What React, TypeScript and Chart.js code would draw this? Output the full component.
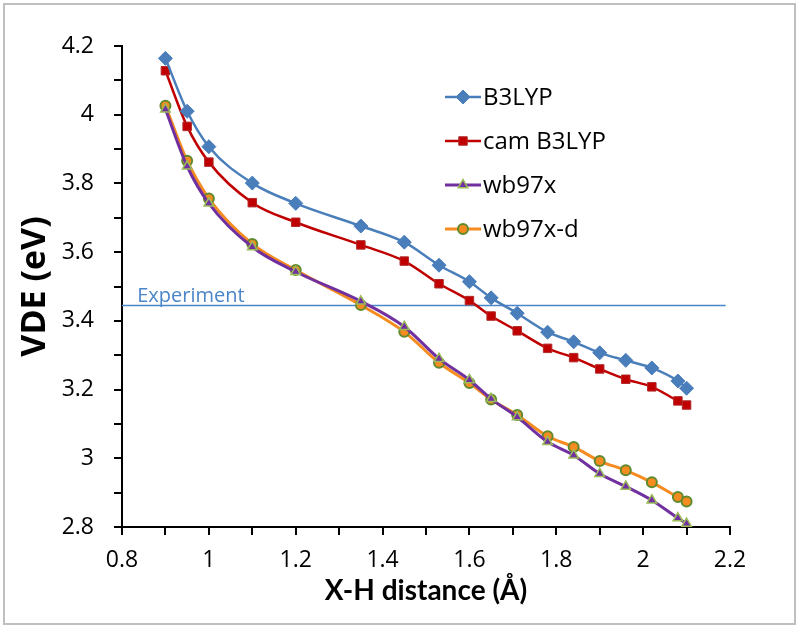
import React, { useEffect, useRef } from "react";
import { Chart, registerables } from "chart.js";
import { drawPoint } from "chart.js/helpers";

Chart.register(...registerables);

const xDistance = [0.9, 0.95, 1.0, 1.1, 1.2, 1.35, 1.45, 1.53, 1.6, 1.65, 1.71, 1.78, 1.84, 1.9, 1.96, 2.02, 2.08, 2.1];
const b3lyp = [4.164, 4.010, 3.907, 3.801, 3.742, 3.676, 3.629, 3.562, 3.514, 3.467, 3.422, 3.367, 3.339, 3.307, 3.285, 3.263, 3.225, 3.204];
const camB3lyp = [4.128, 3.966, 3.862, 3.744, 3.687, 3.621, 3.574, 3.508, 3.459, 3.414, 3.371, 3.320, 3.293, 3.260, 3.230, 3.208, 3.167, 3.155];
const wb97x = [4.016, 3.850, 3.742, 3.615, 3.543, 3.457, 3.383, 3.290, 3.228, 3.173, 3.120, 3.048, 3.009, 2.955, 2.918, 2.878, 2.826, 2.810];
const wb97xd = [4.026, 3.866, 3.756, 3.624, 3.548, 3.446, 3.368, 3.278, 3.219, 3.171, 3.126, 3.064, 3.033, 2.992, 2.965, 2.930, 2.887, 2.874];
const experimentValue = 3.445;
const experimentRange = [0.8, 2.19];
const seriesNames = ["B3LYP", "cam B3LYP", "wb97x", "wb97x-d"];

const FONT = "'Open Sans', Lato, sans-serif";
const TITLE_FONT = "Lato, 'Open Sans', sans-serif";

const toPoints = (ys: number[]) => xDistance.map((x, i) => ({ x, y: ys[i] }));

const framePlugin = {
  id: "frame",
  beforeDraw(chart: any) {
    const ctx = chart.ctx;
    ctx.save();
    ctx.fillStyle = "#ffffff";
    ctx.fillRect(0, 0, chart.width, chart.height);
    ctx.strokeStyle = "#bfbfbf";
    ctx.lineWidth = 2;
    ctx.strokeRect(4, 4, chart.width - 9, chart.height - 9);
    ctx.restore();
  },
};

const annotationPlugin = {
  id: "annot",
  afterDraw(chart: any) {
    const ctx = chart.ctx;
    const xs = chart.scales.x;
    const ys = chart.scales.y;
    ctx.save();
    // Experiment label
    ctx.font = `20px ${FONT}`;
    ctx.fillStyle = "#4a86c8";
    ctx.textBaseline = "alphabetic";
    ctx.textAlign = "left";
    ctx.fillText("Experiment", xs.getPixelForValue(0.835), ys.getPixelForValue(experimentValue) - 3);

    // Legend
    const lx0 = 445;
    const lx1 = 481;
    const ly = [97, 141, 185, 229];
    for (let i = 0; i < 4; i++) {
      const ds = chart.data.datasets[i];
      const y = ly[i];
      ctx.strokeStyle = ds.borderColor;
      ctx.lineWidth = ds.borderWidth;
      ctx.beginPath();
      ctx.moveTo(lx0, y);
      ctx.lineTo(lx1, y);
      ctx.stroke();
      ctx.fillStyle = ds.pointBackgroundColor;
      ctx.strokeStyle = ds.pointBorderColor;
      ctx.lineWidth = ds.pointBorderWidth;
      drawPoint(ctx, { pointStyle: ds.pointStyle, radius: ds.pointRadius, rotation: 0, borderWidth: ds.pointBorderWidth }, (lx0 + lx1) / 2, y);
      ctx.fillStyle = "#000000";
      ctx.font = `24px ${FONT}`;
      ctx.textBaseline = "middle";
      ctx.fillText(seriesNames[i], lx1 + 2, y + 1);
    }
    ctx.restore();
  },
};

const fmt = (v: number) => {
  const t = Math.round(v * 10);
  if (t % 2 !== 0) return "";
  return String(t / 10);
};

export default function App() {
  const ref = useRef<HTMLCanvasElement | null>(null);
  useEffect(() => {
    if (!ref.current) return;
    const chart = new Chart(ref.current, {
      type: "scatter",
      data: {
        datasets: [
          {
            label: seriesNames[0],
            data: toPoints(b3lyp),
            showLine: true,
            borderColor: "#4a7ebb",
            borderWidth: 2.5,
            pointStyle: "rectRot",
            pointRadius: 7,
            pointBackgroundColor: "#4a7ebb",
            pointBorderColor: "#4a7ebb",
            pointBorderWidth: 1,
            cubicInterpolationMode: "monotone",
          },
          {
            label: seriesNames[1],
            data: toPoints(camB3lyp),
            showLine: true,
            borderColor: "#c00000",
            borderWidth: 2.5,
            pointStyle: "rect",
            pointRadius: 6,
            pointBackgroundColor: "#c00000",
            pointBorderColor: "#b22a2a",
            pointBorderWidth: 1,
            cubicInterpolationMode: "monotone",
          },
          {
            label: seriesNames[2],
            data: toPoints(wb97x),
            showLine: true,
            borderColor: "#7030a0",
            borderWidth: 3,
            pointStyle: "triangle",
            pointRadius: 5.5,
            pointBackgroundColor: "#7030a0",
            pointBorderColor: "#9bbb59",
            pointBorderWidth: 1.5,
            cubicInterpolationMode: "monotone",
          },
          {
            label: seriesNames[3],
            data: toPoints(wb97xd),
            showLine: true,
            borderColor: "#f68b1f",
            borderWidth: 3,
            pointStyle: "circle",
            pointRadius: 5,
            pointBackgroundColor: "#f68b1f",
            pointBorderColor: "#5f8a2e",
            pointBorderWidth: 2,
            cubicInterpolationMode: "monotone",
          },
          {
            label: "Experiment",
            data: experimentRange.map((x) => ({ x, y: experimentValue })),
            showLine: true,
            borderColor: "#4a86c8",
            borderWidth: 1.5,
            pointRadius: 0,
          },
        ],
      },
      options: {
        responsive: false,
        maintainAspectRatio: false,
        animation: false,
        layout: { padding: { left: 8, top: 46, right: 70, bottom: 10 } },
        plugins: { legend: { display: false }, tooltip: { enabled: false } },
        scales: {
          x: {
            type: "linear",
            min: 0.8,
            max: 2.2,
            afterFit: (s: any) => { s.height = 92; },
            ticks: {
              stepSize: 0.1,
              autoSkip: false,
              maxRotation: 0,
              callback: (v: any) => fmt(Number(v)),
              color: "#000000",
              font: { family: FONT, size: 23 },
              padding: 12,
            },
            grid: { drawOnChartArea: false, drawTicks: true, tickLength: 8, color: "#000000", lineWidth: 2 },
            border: { display: true, color: "#000000", width: 2 },
            title: {
              display: true,
              text: "X-H distance (Å)",
              color: "#000000",
              font: { family: TITLE_FONT, size: 28, weight: "bold" },
              padding: { top: 0, bottom: 11 },
            },
          },
          y: {
            type: "linear",
            min: 2.8,
            max: 4.2,
            afterFit: (s: any) => { s.width = 114; },
            ticks: {
              stepSize: 0.1,
              autoSkip: false,
              callback: (v: any) => fmt(Number(v)),
              color: "#000000",
              font: { family: FONT, size: 23 },
              padding: 20,
            },
            grid: { drawOnChartArea: false, drawTicks: true, tickLength: 8, color: "#000000", lineWidth: 2 },
            border: { display: true, color: "#000000", width: 2 },
            title: {
              display: true,
              text: "VDE (eV)",
              color: "#000000",
              font: { family: "'Open Sans', Lato, sans-serif", size: 34, weight: "bold" },
              padding: { top: 7, bottom: 0 },
            },
          },
        },
      },
      plugins: [framePlugin, annotationPlugin],
    } as any);
    return () => chart.destroy();
  }, []);
  return (
    <div style={{ position: "absolute", left: 0, top: 0, width: 800, height: 629 }}>
      <canvas ref={ref} width={800} height={629} />
    </div>
  );
}
